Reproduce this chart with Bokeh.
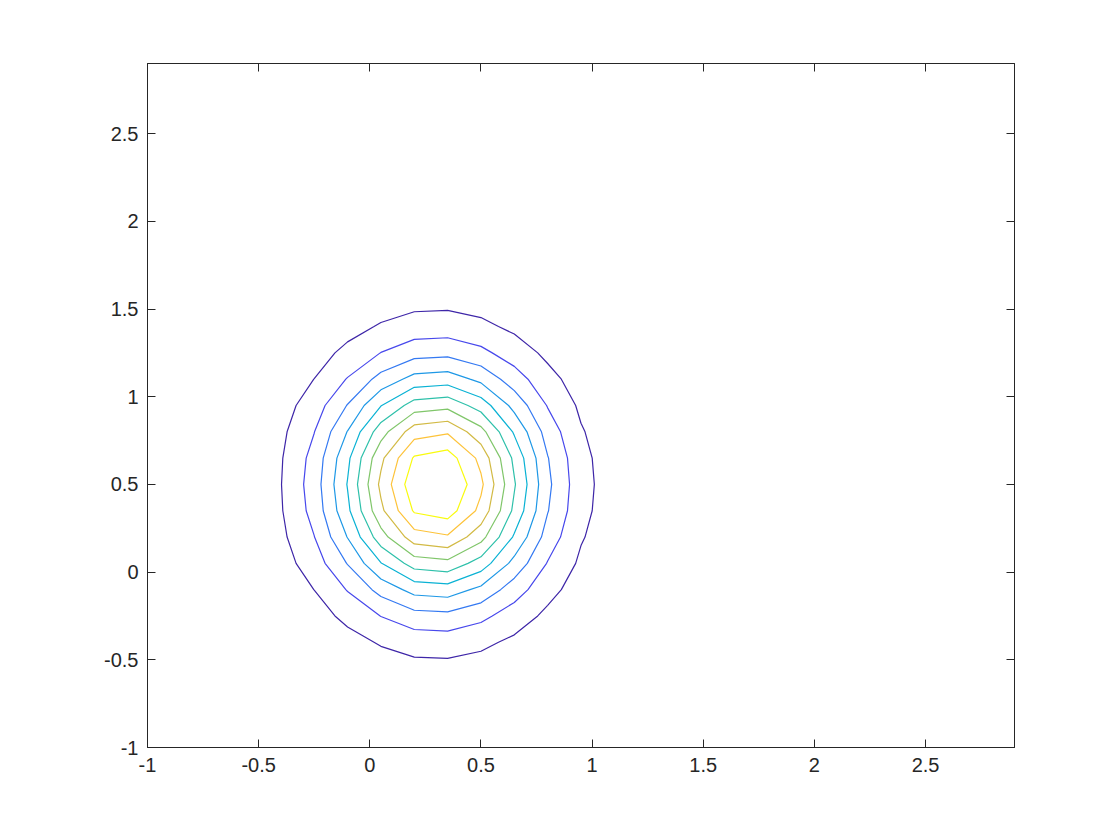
import numpy as np
from bokeh.plotting import figure
from bokeh.models import Range1d, LinearAxis, FixedTicker, CustomJSTickFormatter
from bokeh.embed import file_html
from bokeh.resources import INLINE

# Grid of the sampled density (MATLAB-style -1:0.15:2.9)
x_grid = np.round(np.arange(-1.0, 2.9 + 1e-9, 0.15), 2)
y_grid = np.round(np.arange(-1.0, 2.9 + 1e-9, 0.15), 2)
# Gaussian component
mean_xy = [0.3, 0.5]
var_xy = [0.1, 0.2]
# Contour levels and their colours (parula)
levels = [0.1, 0.2, 0.3, 0.4, 0.5, 0.6, 0.7, 0.8, 0.9, 1.0]
level_colors = ["#3E26A8", "#4748EC", "#3479F2", "#1E98E6", "#0AB2D4",
                "#2EC0AA", "#80C66A", "#D2BA44", "#FDC33A", "#F9FB0E"]
x_ticks = [-1, -0.5, 0, 0.5, 1, 1.5, 2, 2.5]
y_ticks = [-1, -0.5, 0, 0.5, 1, 1.5, 2, 2.5]

X, Y = np.meshgrid(x_grid, y_grid)
Z = np.exp(-((X - mean_xy[0]) ** 2 / (2 * var_xy[0]) + (Y - mean_xy[1]) ** 2 / (2 * var_xy[1]))) \
    / (2 * np.pi * np.sqrt(var_xy[0] * var_xy[1]))

W, H = 1104, 824
p = figure(width=W, height=H, output_backend="svg", toolbar_location=None,
           x_range=Range1d(-1, 2.9), y_range=Range1d(-1, 2.9),
           min_border_left=147, min_border_right=W - 1014, min_border_top=63,
           min_border_bottom=H - 747)
p.xgrid.visible = False
p.ygrid.visible = False
p.background_fill_color = "white"
p.border_fill_color = "white"
p.outline_line_color = "#262626"
p.outline_line_width = 1

p.contour(x_grid, y_grid, Z, levels, line_color=level_colors, line_width=1.2)

fmt = CustomJSTickFormatter(code="return tick.toString();")
blank = CustomJSTickFormatter(code="return '';")
font = "Liberation Sans"

def style(ax):
    ax.axis_line_color = "#262626"
    ax.major_tick_line_color = "#262626"
    ax.major_tick_in = 8
    ax.major_tick_out = 0
    ax.minor_tick_line_color = None
    ax.major_label_text_font = font
    ax.major_label_text_font_size = "20px"
    ax.major_label_text_color = "#262626"

for ax in p.xaxis:
    ax.ticker = FixedTicker(ticks=x_ticks)
    ax.formatter = fmt
    style(ax)
    ax.major_label_standoff = 10
for ax in p.yaxis:
    ax.ticker = FixedTicker(ticks=y_ticks)
    ax.formatter = fmt
    style(ax)
    ax.major_label_standoff = 9

top = LinearAxis(ticker=FixedTicker(ticks=x_ticks), formatter=blank)
style(top)
right = LinearAxis(ticker=FixedTicker(ticks=y_ticks), formatter=blank)
style(right)
p.add_layout(top, "above")
p.add_layout(right, "right")

open("out.html", "w").write(file_html(p, INLINE))
